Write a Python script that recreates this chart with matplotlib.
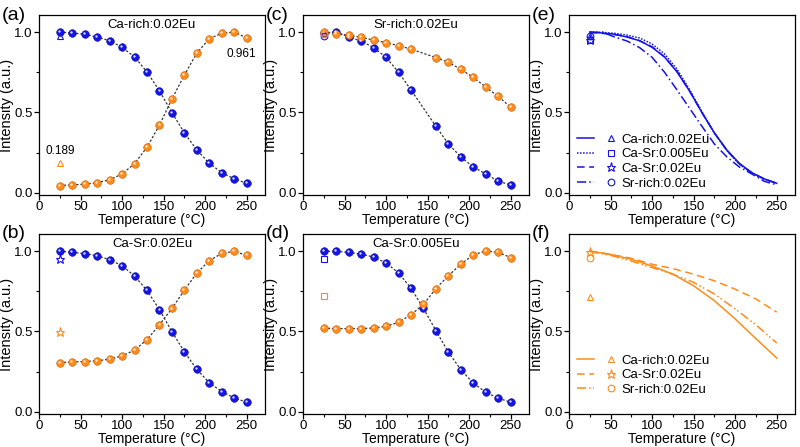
import matplotlib
matplotlib.use("Agg")
import matplotlib.pyplot as plt
from matplotlib.legend_handler import HandlerTuple
from matplotlib import transforms
from matplotlib.ticker import MultipleLocator

plt.rcParams['font.family'] = ['Liberation Sans', 'DejaVu Sans']

# ---------------- data ----------------
temps = [25, 40, 55, 70, 85, 100, 115, 130, 145, 160, 175, 190, 205, 220, 235, 250]
temps_c = [25, 40, 55, 70, 85, 100, 115, 130, 160, 175, 190, 205, 220, 235, 250]

a_blue = [1.0, 0.994, 0.986, 0.969, 0.946, 0.905, 0.845, 0.752, 0.634, 0.499,
          0.373, 0.267, 0.184, 0.126, 0.087, 0.060]
a_orange = [0.046, 0.050, 0.054, 0.064, 0.081, 0.118, 0.182, 0.284, 0.422, 0.584,
            0.733, 0.870, 0.959, 0.992, 1.0, 0.963]
b_blue = [1.0, 0.992, 0.984, 0.971, 0.946, 0.909, 0.845, 0.755, 0.635, 0.499,
          0.373, 0.264, 0.181, 0.126, 0.087, 0.060]
b_orange = [0.307, 0.311, 0.313, 0.318, 0.328, 0.348, 0.384, 0.449, 0.542, 0.643,
            0.757, 0.864, 0.940, 0.986, 0.998, 0.973]
c_blue = [0.995, 1.0, 0.969, 0.944, 0.903, 0.843, 0.750, 0.640, 0.414, 0.304,
          0.224, 0.161, 0.118, 0.072, 0.050]
c_orange = [1.0, 0.990, 0.981, 0.967, 0.950, 0.934, 0.915, 0.894, 0.841, 0.812,
            0.768, 0.718, 0.658, 0.600, 0.532]
d_blue = [1.0, 0.998, 0.992, 0.981, 0.963, 0.926, 0.864, 0.769, 0.643, 0.505,
          0.371, 0.262, 0.179, 0.122, 0.085, 0.060]
d_orange = [0.520, 0.518, 0.518, 0.518, 0.522, 0.532, 0.557, 0.604, 0.668, 0.767,
            0.847, 0.918, 0.977, 1.0, 0.992, 0.959]

# open reference markers at 25 C (blue, orange)
ref_T = 25
ref_a = (0.977, 0.189)   # triangle
ref_b = (0.948, 0.499)   # star
ref_c = (0.973, 0.985)   # circle
ref_d = (0.953, 0.718)   # square

# panel (f) curves
temps_f = [25, 50, 75, 100, 125, 150, 175, 200, 225, 250]
f_carich = [1.0, 0.979, 0.949, 0.907, 0.856, 0.784, 0.691, 0.578, 0.455, 0.335]
f_casr = [1.0, 0.979, 0.955, 0.918, 0.891, 0.856, 0.815, 0.763, 0.702, 0.620]
f_srrich = [0.997, 0.973, 0.938, 0.897, 0.856, 0.805, 0.733, 0.640, 0.541, 0.428]
f_ref = (0.714, 0.997, 0.957)  # triangle, star, circle

titles = ['Ca-rich:0.02Eu', 'Ca-Sr:0.02Eu', 'Sr-rich:0.02Eu', 'Ca-Sr:0.005Eu']
labels_e = ['Ca-rich:0.02Eu', 'Ca-Sr:0.005Eu', 'Ca-Sr:0.02Eu', 'Sr-rich:0.02Eu']
labels_f = ['Ca-rich:0.02Eu', 'Ca-Sr:0.02Eu', 'Sr-rich:0.02Eu']

BLUE = '#1414e6'
ORANGE = '#ff8c1a'
BLUE_D = '#0a0a9a'
ORANGE_D = '#c8600a'

fig = plt.figure(figsize=(8.0, 4.47), dpi=100)
W, H = 800.0, 447.0
lefts = [39, 303, 569]
width = 226
tops = [15, 234]
height = 180

def make_ax(col, row):
    l = lefts[col] / W
    b = (H - tops[row] - height) / H
    return fig.add_axes([l, b, width / W, height / H])

axes = {}
axes['a'] = make_ax(0, 0)
axes['c'] = make_ax(1, 0)
axes['e'] = make_ax(2, 0)
axes['b'] = make_ax(0, 1)
axes['d'] = make_ax(1, 1)
axes['f'] = make_ax(2, 1)

for key, ax in axes.items():
    ax.set_xlim(0, 272)
    ax.set_ylim(-0.013, 1.106)
    ax.xaxis.set_major_locator(MultipleLocator(50))
    ax.xaxis.set_minor_locator(MultipleLocator(25))
    ax.yaxis.set_major_locator(MultipleLocator(0.5))
    ax.yaxis.set_minor_locator(MultipleLocator(0.25))
    ax.tick_params(which='major', direction='out', length=3.5, width=0.9,
                   labelsize=9.5, pad=1.0)
    ax.tick_params(which='minor', direction='out', length=2, width=0.8)
    for s in ax.spines.values():
        s.set_linewidth(0.9)
    ax.set_xlabel('Temperature (°C)', fontsize=10, labelpad=0)
    ax.set_ylabel('Intensity (a.u.)', fontsize=10.5, labelpad=0.3)
    ax.text(-0.165, 1.0, '(%s)' % key, transform=ax.transAxes, fontsize=14,
            ha='left', va='center')

def balls(ax, x, y, col, dcol):
    ax.plot(x, y, ls=(0, (1.8, 1.5)), color='#333333', lw=0.9, zorder=2)
    ax.plot(x, y, ls='none', marker='o', ms=5.5, mfc=col, mec=dcol, mew=0.4, zorder=3)
    tr = transforms.offset_copy(ax.transData, fig=fig, x=-0.7, y=0.7, units='points')
    ax.plot(x, y, ls='none', marker='o', ms=1.7, mfc='white', mec='none',
            alpha=0.85, transform=tr, zorder=4)

panels = [('a', temps, a_blue, a_orange, ref_a, '^', titles[0]),
          ('b', temps, b_blue, b_orange, ref_b, '*', titles[1]),
          ('c', temps_c, c_blue, c_orange, ref_c, 'o', titles[2]),
          ('d', temps, d_blue, d_orange, ref_d, 's', titles[3])]

for key, T, yb, yo, ref, mk, title in panels:
    ax = axes[key]
    balls(ax, T, yb, BLUE, BLUE_D)
    balls(ax, T, yo, ORANGE, ORANGE_D)
    msz = 6.5 if mk == '*' else 4.8
    ax.plot([ref_T], [ref[0]], ls='none', marker=mk, ms=msz, mfc='none', mec=BLUE,
            mew=0.8, zorder=5)
    ax.plot([ref_T], [ref[1]], ls='none', marker=mk, ms=msz, mfc='none', mec=ORANGE,
            mew=0.8, zorder=5)
    ax.text(0.5, 0.945, title, transform=ax.transAxes, ha='center', va='center',
            fontsize=9.5)

axes['a'].text(243, 0.865, '0.961', ha='center', va='center', fontsize=8.5)
axes['a'].text(25, 0.258, '0.189', ha='center', va='center', fontsize=8.5)

# ---- panel (e)
ax = axes['e']
styles_e = ['-', (0, (1, 1)), (0, (5, 3)), (0, (6, 2, 1, 2))]
data_e = [(temps, a_blue), (temps, d_blue), (temps, b_blue), (temps_c, c_blue)]
markers_e = ['^', 's', '*', 'o']
refs_e = [ref_a[0], ref_d[0], ref_b[0], ref_c[0]]
handles = []
for (T, y), ls, mk, rv in zip(data_e, styles_e, markers_e, refs_e):
    ln, = ax.plot(T, y, color=BLUE, ls=ls, lw=1.1)
    msz = 6.5 if mk == '*' else 4.8
    mp, = ax.plot([ref_T], [rv], ls='none', marker=mk, ms=msz, mfc='none', mec=BLUE, mew=0.8)
    handles.append((ln, mp))
ax.legend(handles, labels_e, handler_map={tuple: HandlerTuple(ndivide=None, pad=0.6)},
          loc='upper left', bbox_to_anchor=(0.0, 0.385), frameon=False, fontsize=9.5,
          handlelength=3.2, handletextpad=0.15, labelspacing=0.18, borderaxespad=0.2)

# ---- panel (f)
ax = axes['f']
styles_f = ['-', (0, (5, 3)), (0, (6, 2, 1, 1.5, 1, 2))]
data_f = [f_carich, f_casr, f_srrich]
markers_f = ['^', '*', 'o']
handles = []
for y, ls, mk, rv in zip(data_f, styles_f, markers_f, f_ref):
    ln, = ax.plot(temps_f, y, color=ORANGE, ls=ls, lw=1.1)
    msz = 6.5 if mk == '*' else 4.8
    mp, = ax.plot([ref_T], [rv], ls='none', marker=mk, ms=msz, mfc='none', mec=ORANGE, mew=0.8)
    handles.append((ln, mp))
ax.legend(handles, labels_f, handler_map={tuple: HandlerTuple(ndivide=None, pad=0.6)},
          loc='upper left', bbox_to_anchor=(0.0, 0.375), frameon=False, fontsize=9.5,
          handlelength=3.2, handletextpad=0.15, labelspacing=0.18, borderaxespad=0.2)

fig.savefig('out.png', dpi=100)
